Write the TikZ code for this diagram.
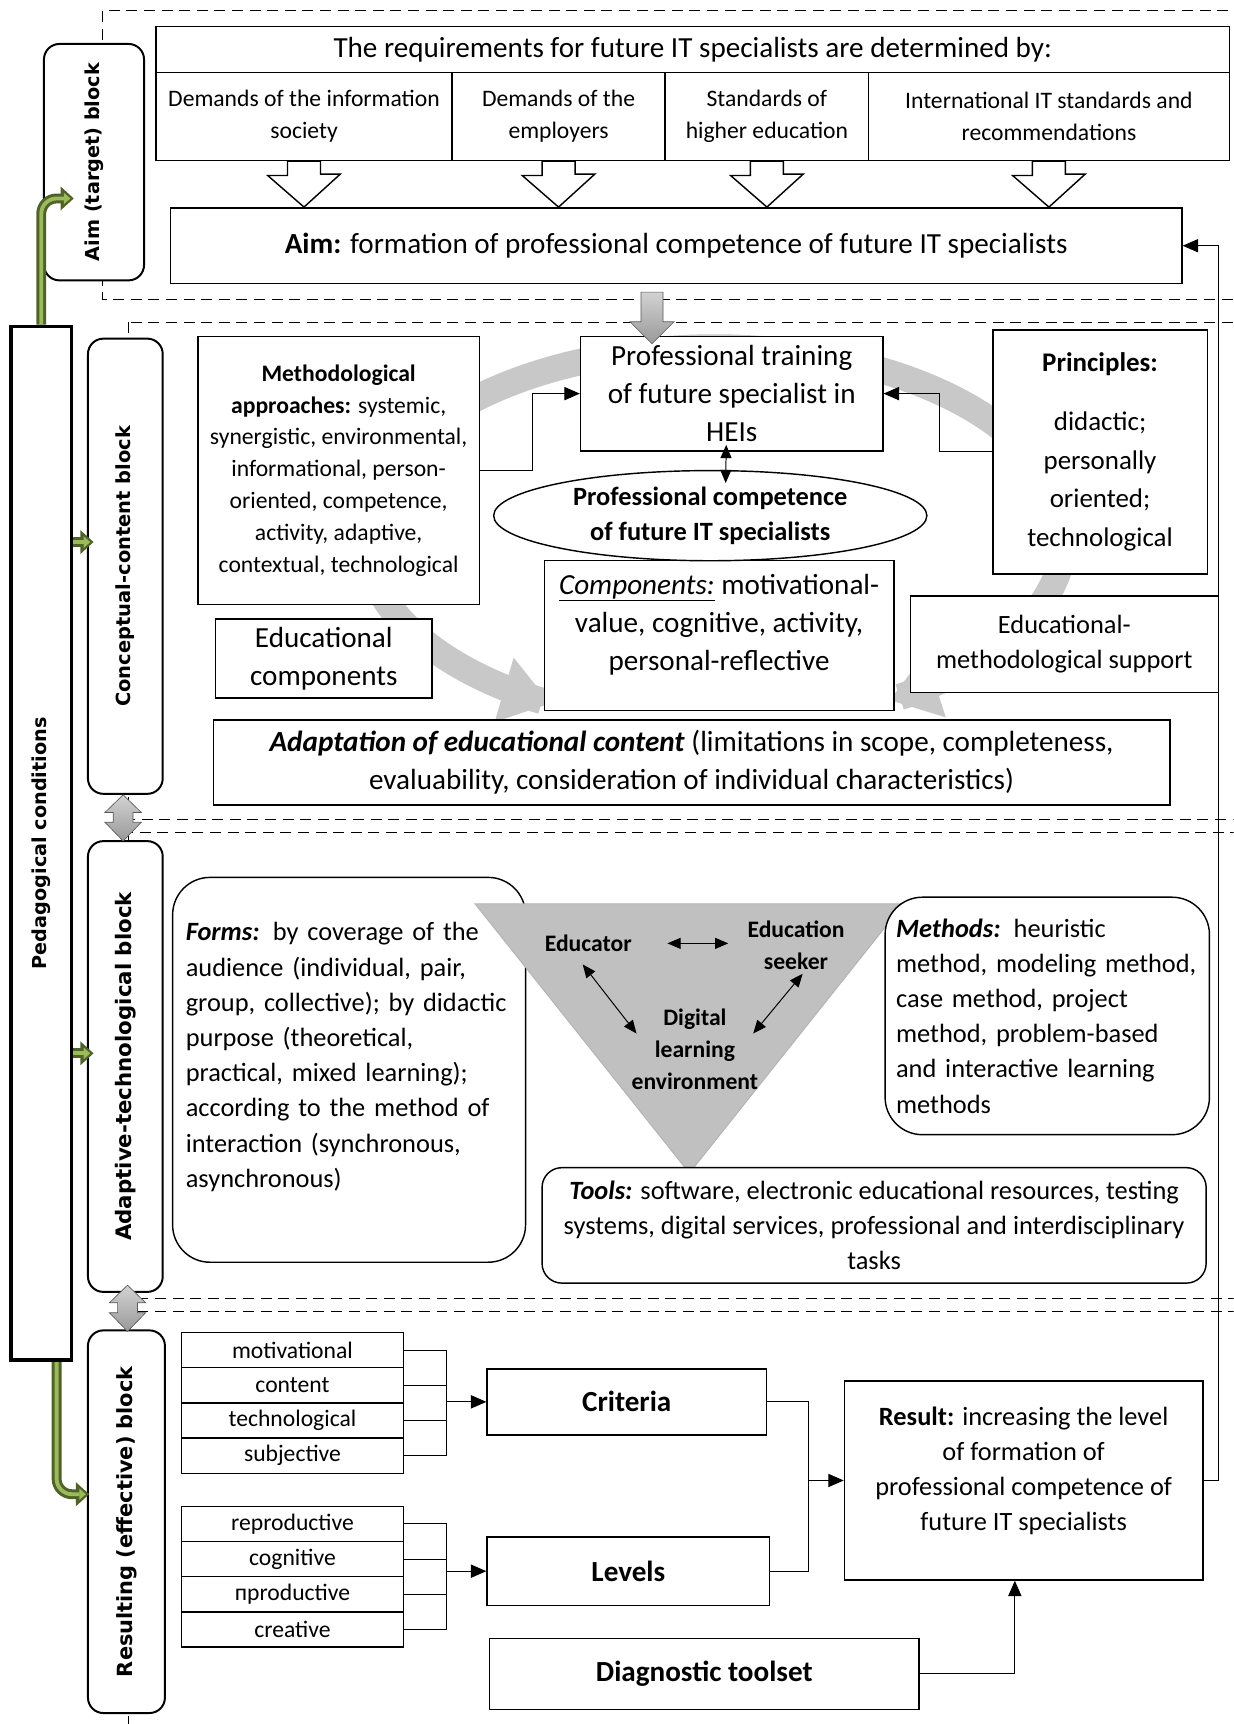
\documentclass[tikz,border=0pt]{standalone}
\usepackage{fontspec}
\setmainfont{Carlito}
\newfontfamily\blockfont{DejaVu Sans}
\usetikzlibrary{arrows.meta, shapes.geometric}

\definecolor{pipedark}{RGB}{79,98,40}
\definecolor{pipelight}{RGB}{155,187,89}
\definecolor{ringgray}{RGB}{200,200,200}
\definecolor{wedgegray}{RGB}{192,192,192}

\newcommand{\fbig}{\fontsize{26.5}{34.5}\selectfont}
\newcommand{\fmid}{\fontsize{24}{32}\selectfont}
\newcommand{\fsmall}{\fontsize{21.5}{29}\selectfont}
\newcommand{\sidefont}[1]{\blockfont\bfseries\fontsize{#1}{#1}\selectfont}

\newcommand{\hollowdown}[2]{%
  \draw[hollow] ([xshift = -15pt]#1.south) -- ++(0, 13) -- ++(-18, 0)
    -- (#1.south |- #2.north) -- ++(33, -30) -- ++(-18, 0)
    -- ([xshift = 15pt]#1.south) -- cycle;}
\newcommand{\twinarrow}[1]{%
  \shadedraw[grayblock] (#1) -- ++(16.5, 16) -- ++(-7.5, 0) -- ++(0, 9)
    -- ++(7.5, 0) -- ++(-16.5, 17) -- ++(-16.5, -17) -- ++(7.5, 0)
    -- ++(0, -9) -- ++(-7.5, 0) -- cycle;}

\begin{document}
\begin{tikzpicture}[x = 1pt, y = -1pt,
  box/.style = {draw, line width = 1.3pt, fill = white, align = center, inner sep = 2pt},
  rbox/.style = {box, rounded corners = 34pt},
  sidebox/.style = {draw, line width = 1.8pt, fill = white, rounded corners = 14pt, rotate = 90, inner sep = 0pt},
  pedbox/.style = {draw, line width = 3.5pt, fill = white, rotate = 90, inner sep = 0pt},
  item/.style = {box, minimum width = 202pt, minimum height = 32pt, font = \fsmall},
  zone/.style = {line width = 0.9pt, dash pattern = on 10pt off 6pt},
  wire/.style = {line width = 0.9pt},
  link/.style = {wire, -{Triangle[width = 12pt, length = 14pt]}},
  twoway/.style = {wire, {Triangle[width = 10pt, length = 12pt]}-{Triangle[width = 10pt, length = 12pt]}},
  hollow/.style = {draw, line width = 1.3pt, fill = white},
  grayblock/.style = {draw = gray!70!black, line width = 0.6pt, top color = gray!35, bottom color = gray!80},
  cyclearc/.style = {draw = ringgray, line width = 24pt, -{Triangle[width = 58pt, length = 44pt]}},
  pipeout/.style = {draw = pipedark, line width = 9pt, rounded corners = 14pt, -{Triangle[width = 21pt, length = 12pt]}},
  pipein/.style = {draw = pipelight, line width = 3.5pt, rounded corners = 14pt, shorten >= 3pt, -{Triangle[width = 10pt, length = 6pt]}}]

\useasboundingbox (0, 0) rectangle (1122, 1568);
\clip (0, 0) rectangle (1122, 1568);

\draw[zone] (93, 10) rectangle (1135, 272);
\draw[zone] (117, 293) rectangle (1135, 745);
\draw[zone] (117, 757) rectangle (1135, 1181);
\draw[zone] (117, 1193) rectangle (1135, 1600);

\draw[cyclearc] plot[domain = 200:420, samples = 80, smooth] ({650 + 318*cos(\x)}, {488 + 172*sin(\x)});
\draw[cyclearc] plot[domain = 200:118, samples = 40, smooth] ({650 + 318*cos(\x)}, {488 + 172*sin(\x)});

\node[sidebox, minimum width = 215pt, minimum height = 91pt, font = \sidefont{17.5}] (aimblock) at (85.5, 147.5) {Aim (target) block};
\node[box, minimum width = 976pt, minimum height = 42pt, font = \fbig] (req) at (630, 45) {The requirements for future IT specialists are determined by:};
\node[box, minimum width = 269pt, minimum height = 80pt, font = \fsmall] (dem1) at (276.5, 106) {Demands of the information\\society};
\node[box, minimum width = 194pt, minimum height = 80pt, font = \fsmall] (dem2) at (508, 106) {Demands of the\\employers};
\node[box, minimum width = 185pt, minimum height = 80pt, font = \fsmall] (dem3) at (697.5, 106) {Standards of\\higher education};
\node[box, minimum width = 328pt, minimum height = 80pt, font = \fsmall] (dem4) at (954, 106) {International IT standards and\\recommendations};
\node[box, minimum width = 920pt, minimum height = 69pt, font = \fbig] (aim) at (615, 223.5) {\textbf{Aim:} formation of professional competence of future IT specialists};

\hollowdown{dem1}{aim}
\hollowdown{dem2}{aim}
\hollowdown{dem3}{aim}
\hollowdown{dem4}{aim}

\node[pedbox, minimum width = 940pt, minimum height = 55pt, font = \sidefont{17.5}] (ped) at (37.5, 767) {Pedagogical conditions};
\node[sidebox, minimum width = 414pt, minimum height = 68pt, font = \sidefont{17.7}] (concept) at (114, 515) {Conceptual-content block};
\node[sidebox, minimum width = 410pt, minimum height = 68pt, font = \sidefont{19.4}] (adapt) at (114, 970) {Adaptive-technological block};
\node[sidebox, minimum width = 348pt, minimum height = 70pt, font = \sidefont{19}] (resblock) at (115, 1384) {Resulting (effective) block};

\node[box, minimum width = 256pt, minimum height = 244pt, font = \fsmall] (meth) at (308, 428)
  {\textbf{Methodological}\\\textbf{approaches:} systemic,\\synergistic, environmental,\\informational, person-\\oriented, competence,\\activity, adaptive,\\contextual, technological};
\node[box, minimum width = 275pt, minimum height = 104pt, font = \fbig] (train) at (665.5, 358)
  {Professional training\\of future specialist in\\HEIs};
\node[box, minimum width = 195pt, minimum height = 222pt, font = \fontsize{24.5}{35}\selectfont] (princ) at (1000.5, 411)
  {\textbf{Principles:}\\[19pt]didactic;\\personally\\oriented;\\technological};
\node[box, minimum width = 318pt, minimum height = 136pt, font = \fbig] (comp) at (654, 578)
  {\underline{\textit{Components:}} motivational-\\value, cognitive, activity,\\personal-reflective\\[-10pt]\mbox{}};
\node[draw, ellipse, line width = 1.3pt, fill = white, minimum width = 394pt, minimum height = 82pt, inner sep = 0pt, align = center, font = \fmid\bfseries] (core) at (646, 469)
  {Professional competence\\of future IT specialists};
\node[box, minimum width = 197pt, minimum height = 72pt, font = \fbig] (educomp) at (294.5, 599) {Educational\\components};
\node[box, minimum width = 280pt, minimum height = 88pt, font = \fmid] (support) at (968, 586) {Educational-\\methodological support};
\node[box, minimum width = 870pt, minimum height = 77pt, font = \fbig] (adjust) at (629, 693.5)
  {\textbf{\textit{Adaptation of educational content}} (limitations in scope, completeness,\\evaluability, consideration of individual characteristics)};

\draw[link] (meth.east) -- ++(48, 0) |- (train.west);
\draw[link] (princ.west) -- ++(-48, 0) |- (train.east);
\draw[twoway] ([xshift = -5pt, yshift = 6pt]train.south) -- ([xshift = 14pt, yshift = -12pt]core.north);

\shadedraw[grayblock] ([xshift = -32pt, yshift = -7pt]aim.south) -- ++(0, 27) -- ++(-10, 0) -- ++(20, 20)
  -- ++(20, -20) -- ++(-10, 0) -- ++(0, -27) -- cycle;

\node[rbox, minimum width = 321pt, minimum height = 350pt, text width = 297pt, align = left, inner xsep = 12pt, font = \fmid] (forms) at (317.5, 973)
  {\textbf{\textit{Forms:}} by coverage of the\\audience (individual, pair,\\group, collective); by didactic\\purpose (theoretical,\\practical, mixed learning);\\according to the method of\\interaction (synchronous,\\asynchronous)\\[-5pt]\mbox{}};

\filldraw[fill = wedgegray, draw = gray!60, line width = 0.8pt] (432, 822) -- (822, 822) -- (627, 1067) -- cycle;

\node[font = \fsmall\bfseries, align = center] (educator) at (535, 858) {Educator};
\node[font = \fsmall\bfseries, align = center] (seeker) at (724, 860) {Education\\seeker};
\node[font = \fsmall\bfseries, align = center] (dle) at (632, 954) {Digital\\learning\\environment};
\draw[twoway, shorten <= 29pt, shorten >= 14pt] (educator.east) -- (educator.east -| seeker.west);
\draw[twoway] ([xshift = -5pt, yshift = -8pt]educator.south) -- ([xshift = 8pt, yshift = 14pt]dle.west);
\draw[twoway] ([xshift = 6pt]seeker.south) -- ([xshift = -8pt, yshift = 14pt]dle.east);

\node[rbox, minimum width = 295pt, minimum height = 216pt, text width = 275pt, align = left, inner xsep = 10pt, font = \fmid] (methods) at (952.5, 924)
  {\textbf{\textit{Methods:}} heuristic\\method, modeling method,\\case method, project\\method, problem-based\\and interactive learning\\methods};
\node[box, rounded corners = 18pt, minimum width = 604pt, minimum height = 105pt, font = \fmid] (tools) at (795, 1114.5)
  {\textbf{\textit{Tools:}} software, electronic educational resources, testing\\systems, digital services, professional and interdisciplinary\\tasks};

\node[item] (cr1) at (266, 1228) {motivational};
\node[item] (cr2) at (266, 1260) {content};
\node[item] (cr3) at (266, 1292) {technological};
\node[item] (cr4) at (266, 1324) {subjective};
\node[item] (lv1) at (266, 1386) {reproductive};
\node[item] (lv2) at (266, 1418) {cognitive};
\node[item] (lv3) at (266, 1450) {пproductive};
\node[item] (lv4) at (266, 1482) {creative};

\node[box, minimum width = 254pt, minimum height = 60pt, font = \fbig\bfseries] (crit) at (570, 1275) {Criteria};
\node[box, minimum width = 257pt, minimum height = 62pt, font = \fbig\bfseries] (lvl) at (571.5, 1429) {Levels};
\node[box, minimum width = 391pt, minimum height = 65pt, font = \fbig\bfseries] (diag) at (640.5, 1522.5) {Diagnostic toolset};
\node[box, minimum width = 326pt, minimum height = 181pt, font = \fmid] (res) at (931, 1346.5)
  {\textbf{Result:} increasing the level\\of formation of\\professional competence of\\future IT specialists\\[-11pt]\mbox{}};

\coordinate (cj) at ([xshift = 38pt]cr1.east);
\draw[wire] (cr1.east) -- (cj) -- (cj |- cr4.east) -- (cr4.east);
\draw[wire] (cr2.east) -- (cr2.east -| cj);
\draw[wire] (cr3.east) -- (cr3.east -| cj);
\draw[link] (cj |- crit.west) -- (crit.west);

\coordinate (lj) at ([xshift = 38pt]lv1.east);
\draw[wire] (lv1.east) -- (lj) -- (lj |- lv4.east) -- (lv4.east);
\draw[wire] (lv2.east) -- (lv2.east -| lj);
\draw[wire] (lv3.east) -- (lv3.east -| lj);
\draw[link] (lj |- lvl.west) -- (lvl.west);

\coordinate (rj) at ([xshift = 38pt]crit.east);
\draw[link] (crit.east) -- (rj) |- (res.west);
\draw[wire] (lvl.east) -| (rj |- res.west);
\draw[link] (diag.east) -| ([xshift = -8pt]res.south);
\draw[link] (res.east) -- ++(14, 0) |- (aim.east);

\twinarrow{[xshift = -2pt]concept.west}
\twinarrow{[xshift = 2pt, yshift = 7pt]adapt.west}

\draw[pipeout] (ped.east) |- ([xshift = 28pt, yshift = -33pt]aimblock.north);
\draw[pipein] (ped.east) |- ([xshift = 28pt, yshift = -33pt]aimblock.north);
\draw[pipeout] ([xshift = 14pt]ped.west) |- ([xshift = 2pt, yshift = 25pt]resblock.north);
\draw[pipein] ([xshift = 14pt]ped.west) |- ([xshift = 2pt, yshift = 25pt]resblock.north);
\coordinate (g1) at ([yshift = 22pt]concept.north);
\coordinate (g2) at ([yshift = 12pt]adapt.north);
\draw[pipeout] (g1 -| ped.south) -- ([xshift = 6pt]g1);
\draw[pipein] (g1 -| ped.south) -- ([xshift = 6pt]g1);
\draw[pipeout] (g2 -| ped.south) -- ([xshift = 6pt]g2);
\draw[pipein] (g2 -| ped.south) -- ([xshift = 6pt]g2);

\end{tikzpicture}
\end{document}
